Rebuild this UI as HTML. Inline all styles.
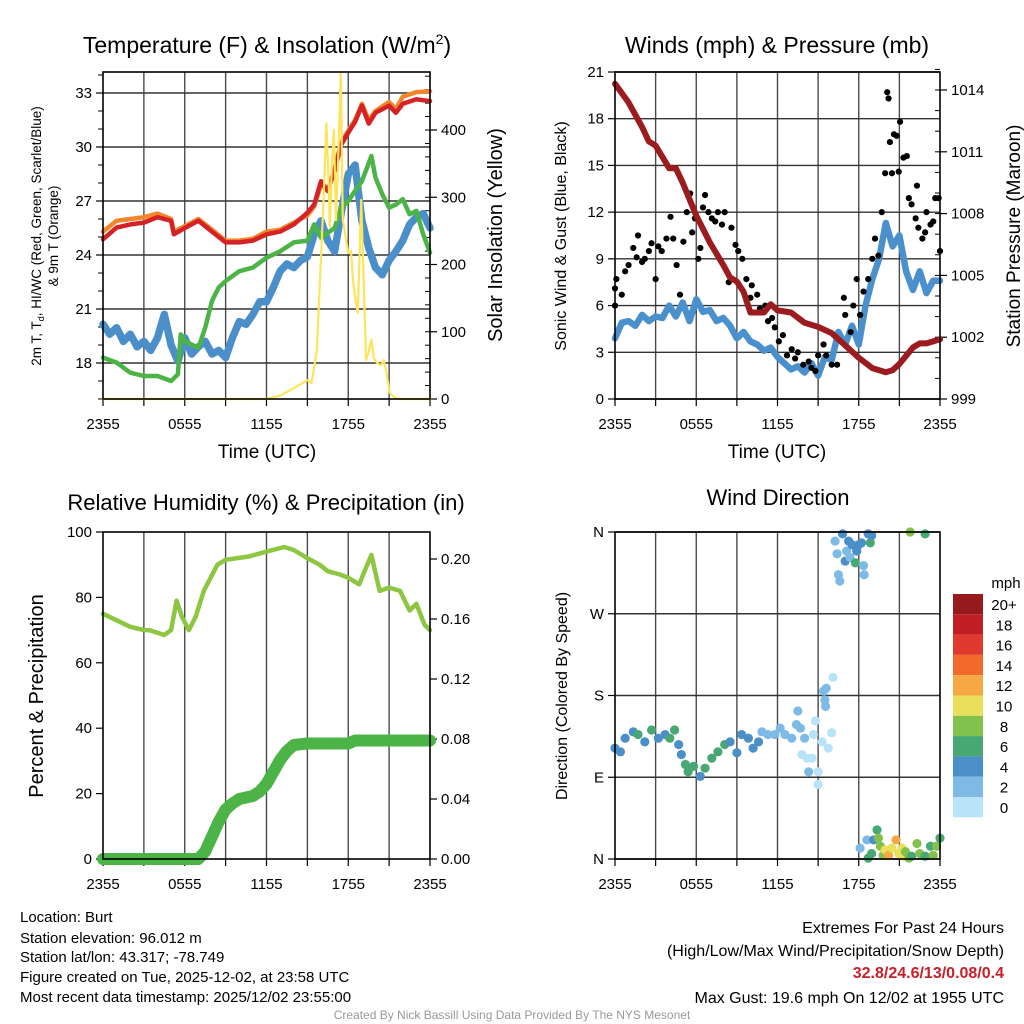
<!DOCTYPE html>
<html><head><meta charset="utf-8"><style>
html,body{margin:0;padding:0;background:#fff;}
svg{display:block;font-family:"Liberation Sans",Arial,sans-serif;}
</style></head><body>
<svg id="chart" width="1024" height="1024" viewBox="0 0 1024 1024" xmlns="http://www.w3.org/2000/svg">
<rect x="0" y="0" width="1024" height="1024" fill="#fff"/>
<g id="texts" fill="#000">
<text x="267" y="53" font-size="23" text-anchor="middle">Temperature (F) &amp; Insolation (W/m<tspan dy="-9" font-size="14">2</tspan><tspan dy="9">)</tspan></text>
<text x="777" y="53" font-size="23" text-anchor="middle">Winds (mph) &amp; Pressure (mb)</text>
<text x="266" y="510" font-size="22" text-anchor="middle">Relative Humidity (%) &amp; Precipitation (in)</text>
<text x="778" y="505" font-size="22" text-anchor="middle">Wind Direction</text>
<text x="267" y="458" font-size="19" text-anchor="middle">Time (UTC)</text>
<text x="777" y="458" font-size="19" text-anchor="middle">Time (UTC)</text>
<text transform="translate(41,236) rotate(-90)" font-size="13.5" text-anchor="middle">2m T, T<tspan dy="3" font-size="9">d</tspan><tspan dy="-3">, HI/WC (Red, Green, Scarlet/Blue)</tspan></text>
<text transform="translate(58,236) rotate(-90)" font-size="13.5" text-anchor="middle">&amp; 9m T (Orange)</text>
<text transform="translate(502,235) rotate(-90)" font-size="20" text-anchor="middle">Solar Insolation (Yellow)</text>
<text transform="translate(566,236) rotate(-90)" font-size="16" text-anchor="middle">Sonic Wind &amp; Gust (Blue, Black)</text>
<text transform="translate(1020,236) rotate(-90)" font-size="19" text-anchor="middle">Station Pressure (Maroon)</text>
<text transform="translate(43,696) rotate(-90)" font-size="20" text-anchor="middle">Percent &amp; Precipitation</text>
<text transform="translate(567,696) rotate(-90)" font-size="16" text-anchor="middle">Direction (Colored By Speed)</text>
<text x="1006" y="588" font-size="15" text-anchor="middle">mph</text>
<g font-size="15">
<text x="20" y="922">Location: Burt</text>
<text x="20" y="943">Station elevation: 96.012 m</text>
<text x="20" y="962">Station lat/lon: 43.317; -78.749</text>
<text x="20" y="982">Figure created on Tue, 2025-12-02, at 23:58 UTC</text>
<text x="20" y="1002">Most recent data timestamp: 2025/12/02 23:55:00</text>
</g>
<g font-size="16" text-anchor="end">
<text x="1004" y="933">Extremes For Past 24 Hours</text>
<text x="1004" y="956">(High/Low/Max Wind/Precipitation/Snow Depth)</text>
<text x="1004" y="978" fill="#c8202a" font-weight="bold">32.8/24.6/13/0.08/0.4</text>
<text x="1004" y="1003">Max Gust: 19.6 mph On 12/02 at 1955 UTC</text>
</g>
<text x="512" y="1019" font-size="12" fill="#999" text-anchor="middle">Created By Nick Bassill Using Data Provided By The NYS Mesonet</text>
</g>
</svg>
<script>
// ---------- Panel 1: temperature & insolation ----------
const tempHours = [0,1,2,3,4,5,5.2,6,7,8,9,10,11,12,13,14,15,15.5,16,16.5,17,17.5,18,18.5,19,19.5,20,21,21.5,22,23,24];
const tempRed = [24.87,25.52,25.7,25.8,26.1,25.9,25.15,25.5,25.9,25.3,24.7,24.7,24.8,25.15,25.3,25.7,26.35,26.8,28.1,27.55,28.7,30.15,30.8,31.4,32.3,31.3,31.9,32.3,31.9,32.4,32.65,32.55];
const tempOrange = [25.3,25.9,26.0,26.1,26.3,26.0,25.3,25.6,26.0,25.4,24.8,24.8,24.9,25.3,25.4,25.8,26.2,26.7,27.9,27.6,28.8,30.3,30.9,31.5,32.4,31.5,32.0,32.5,32.1,32.8,33.05,33.1];
const dewHours = [0,1,2,3,4,5,5.5,5.7,6,7,7.5,8,8.5,9,10,11,12,13,14,15,15.5,16,17,17.5,18,18.5,19,19.7,20,20.5,21,21.5,22,22.5,23,23.5,24];
const dewGreen = [18.3,18.02,17.46,17.28,17.28,17.0,17.37,19.59,19.2,18.85,19.96,21.45,22.2,22.55,23.1,23.3,23.85,24.2,24.7,24.8,25.7,24.96,25.5,26.63,27.0,27.56,28.1,29.5,28.3,27.37,26.63,26.8,27.1,26.26,26.45,25.15,24.13];
const chillHours = [0,0.5,1,1.5,2,2.5,3,3.5,4,4.5,5,5.5,6,6.5,7,7.5,8,8.5,9,9.5,10,10.5,11,11.5,12,12.5,13,13.5,14,14.5,15,15.5,16,16.5,17,17.5,18,18.5,19,19.5,20,20.5,21,21.5,22,22.5,23,23.5,24];
const chillBlue = [20.15,19.6,19.96,19.2,19.6,18.9,19.2,18.7,19.4,20.7,19.0,18.1,19.4,18.5,18.9,19.2,18.5,18.7,18.3,19.4,20.3,20.15,20.7,21.4,21.4,22.2,23.1,23.5,23.3,23.7,23.9,25.15,25.9,24.8,24.2,26.4,28.5,29.0,25.9,24.4,23.3,22.9,23.7,24.2,24.8,25.7,26.1,26.3,25.5];
const solarHours = [0,12,13,14,15,15.3,15.7,16,16.2,16.4,16.55,16.65,16.8,16.95,17.1,17.3,17.45,17.6,18,18.2,18.35,18.5,18.7,18.95,19.1,19.3,19.5,19.7,19.9,20.1,20.4,20.6,20.8,21.05,21.4,21.8,24];
const solarVals = [0,0,5,16,28,24,73,211,300,410,330,256,350,400,266,380,484,266,217,220,177,150,128,296,200,58,70,88,60,54,50,58,40,9,2,0,0];
const tempTicks = [18,21,24,27,30,33];
const solarTicks = [0,100,200,300,400];
const timeLabels = ["2355","0555","1155","1755","2355"];
// ---------- Panel 2: winds & pressure ----------
const presHours = [0,1,2,2.5,3,4,4.5,5,6,7,8,8.5,9,9.5,10,11,11.5,12,13,14,15,16,17,18,19,20,20.5,21,22,22.5,23,24];
const presVals = [1014.3,1013.4,1012.2,1011.5,1011.3,1010.2,1010.2,1009.5,1007.9,1006.6,1005.5,1004.9,1004.7,1004.2,1003.2,1003.2,1003.6,1003.3,1003.2,1002.7,1002.5,1002.2,1001.6,1001.0,1000.5,1000.3,1000.4,1000.7,1001.5,1001.7,1001.7,1001.9];
const windHours = chillHours;
const windVals = [3.9,4.9,5.0,4.7,5.4,5.0,5.3,5.2,6.0,5.3,6.2,5.0,6.4,5.6,5.7,5.0,5.2,4.7,3.9,4.3,3.7,3.5,3.1,3.3,2.7,2.3,1.9,2.1,1.7,2.3,1.5,2.7,2.5,4.3,3.5,4.7,3.5,6.0,7.7,9.0,11.3,9.8,10.5,8.2,7.0,8.2,6.8,7.6,7.6];
const gustHours = [0,0,0.1,0.5,0.75,1.0,1.35,1.6,1.7,2.0,2.2,2.5,2.7,3.0,3.2,3.45,3.8,4.1,4.3,4.55,4.8,5.05,5.3,5.55,5.7,5.9,6.15,6.3,6.5,6.65,6.9,7.15,7.4,7.6,7.9,8.1,8.4,8.6,8.9,9.1,9.4,9.7,10.0,10.1,10.5,10.7,11.1,11.3,11.6,11.8,12.1,12.4,12.7,13.05,13.3,13.5,13.9,14.3,14.5,14.8,15.0,15.4,15.6,16.0,16.4,16.9,17.0,17.4,17.6,17.85,18.1,18.35,18.7,19.0,19.2,19.45,19.7,19.95,20.1,20.2,20.3,20.45,20.6,20.8,20.95,21.05,21.3,21.55,21.7,21.9,22.2,22.3,22.4,22.7,22.9,23.0,23.3,23.5,23.65,23.9,24.0];
const gustVals = [7.1,6.0,7.7,6.7,8.2,8.6,9.7,9.1,10.5,8.8,9.0,9.5,10.0,7.7,9.8,9.5,10.3,11.7,10.3,8.6,6.7,10.1,12.0,13.2,10.7,11.6,9.0,9.7,12.3,13.1,12.0,11.6,11.4,12.0,11.2,12.0,7.5,11.0,9.9,9.5,9.0,7.7,6.5,7.3,6.7,5.8,6.0,5.0,5.2,4.6,3.7,4.1,2.8,3.2,2.6,3.0,2.2,2.4,2.0,1.8,2.8,3.5,2.8,2.2,2.2,6.5,5.4,4.3,6.0,7.7,5.4,6.9,7.7,9.0,10.3,9.2,12.0,14.5,19.7,19.3,16.5,14.5,17.0,16.9,14.6,17.8,15.5,15.6,12.9,12.5,11.6,13.7,11.0,10.3,10.7,12.0,11.2,11.4,12.9,12.9,9.5];
const windTicks = [0,3,6,9,12,15,18,21];
const presTicks = [999,1002,1005,1008,1011,1014];
// ---------- Panel 3: humidity & precipitation ----------
const rhHours = [0,1,2,3,3.4,4.5,5,5.4,5.8,6.3,6.8,7.4,8.4,9,10.7,12,13.3,14,15,15.9,16.5,17.4,18,18.8,19.2,19.7,20.3,21,21.8,22.5,23,23.6,24];
const rhVals = [75,73,71,70,70,68.5,70,79,74,70,74,82,90,91.5,92.5,94,95.4,94.5,92,90,88,87,86,84,88,93,82,83,82,76,78,71.6,70];
const pcpHours = [0,7,7.5,8,8.5,9,9.5,10,11,11.5,12,12.5,13,13.5,14,15,16,17,18,18.5,24];
const pcpVals = [0,0,0.005,0.015,0.025,0.033,0.037,0.04,0.042,0.045,0.05,0.058,0.066,0.072,0.076,0.077,0.077,0.077,0.077,0.079,0.079];
const rhTicks = [0,20,40,60,80,100];
const pcpTicks = [0,0.04,0.08,0.12,0.16,0.20];
// ---------- Panel 4: wind direction ----------
const dirHours = [0,0.4,0.75,1.35,1.7,2.2,2.7,3.2,3.7,4.05,4.4,4.7,4.9,5.2,5.4,5.8,6.3,6.65,7.15,7.6,8.1,8.5,9.0,9.35,9.85,10.2,10.6,10.85,11.3,11.8,12.2,12.55,13.05,13.4,13.5,13.7,14.0,13.8,14.2,14.3,14.55,14.65,14.8,15.0,15.0,15.3,15.4,15.5,15.6,15.55,15.75,16.0,16.1,16.25,16.4,16.5,16.6,16.8,17.0,17.1,17.25,17.35,17.5,17.75,17.85,18.0,18.2,18.35,18.4,18.7,18.85,18.95,21.8,22.9,18.1,18.6,18.7,18.95,19.1,19.35,19.45,19.6,19.8,19.95,20.2,20.45,20.75,20.95,21.2,21.3,21.45,21.7,21.9,22.3,22.5,22.9,23.3,23.5,23.75,24.0];
const dirDeg = [122,118,133,140,137,129,142,133,137,133,142,126,115,104,96,102,91,100,111,118,126,129,117,137,133,122,129,140,137,137,144,137,133,148,163,144,133,115,111,96,111,137,152,96,82,129,185,175,188,168,122,139,200,350,336,313,306,358,328,339,350,332,346,326,339,346,348,323,313,358,348,356,360,358,12,21,1,6,21,32,23,14,4,10,4,12,21,6,12,3,8,1,3,17,6,3,14,4,14,23];
const dirSpeed = [4,4,4,4,6,4,6,4,4,6,6,4,4,6,6,6,4,6,6,6,6,4,4,4,4,4,4,2,2,2,2,2,2,2,2,2,2,0,0,2,0,0,0,0,0,0,2,2,2,2,0,0,0,2,2,2,2,4,4,2,4,2,4,6,4,4,4,2,2,4,6,4,8,6,2,2,6,6,4,6,8,8,8,10,12,10,12,10,10,10,8,8,6,8,8,6,6,8,8,6];
const dirTicks = [0,90,180,270,360];
const dirLabels = ["N","E","S","W","N"];
const speedBins = ["0","2","4","6","8","10","12","14","16","18","20+"];
const speedColors = ["#b8e3f8","#7dbbe6","#4a8fc7","#47a874","#82c14b","#e8e05a","#f7a845","#f26a2b","#e03a2e","#c11e26","#95191d"];

const NS = "http://www.w3.org/2000/svg";
const svg = document.getElementById("chart");
function mk(tag, attrs, parent){ const e=document.createElementNS(NS,tag); for(const k in attrs) e.setAttribute(k,attrs[k]); (parent||svg).appendChild(e); return e; }
function lin(d0,d1,r0,r1){ return v => r0 + (v-d0)*(r1-r0)/(d1-d0); }

const P1={x0:103,x1:430,y0:72,y1:399}, P2={x0:615,x1:940,y0:72,y1:399}, P3={x0:103,x1:430,y0:532,y1:859}, P4={x0:615,x1:940,y0:532,y1:859};
const x1s=lin(0,24,P1.x0,P1.x1), x2s=lin(0,24,P2.x0,P2.x1), x3s=lin(0,24,P3.x0,P3.x1), x4s=lin(0,24,P4.x0,P4.x1);
const yT=lin(33,18,93,363), yS=lin(0,400,399,130);
const yW=lin(0,21,399,72), yPr=lin(999,1014,399,90);
const yH=lin(0,100,859,532), yPc=lin(0,0.2,859,559);
const yD=lin(0,360,859,532);

function gridAndFrame(P, xs, hTicks, name){
  const g=mk("g",{});
  
  
  for(let h=3;h<24;h+=3){ mk("line",{x1:xs(h),x2:xs(h),y1:P.y0,y2:P.y1,stroke:"#4a4a4a","stroke-width":1.4},g); }
  hTicks.forEach(y=>{ mk("line",{x1:P.x0,x2:P.x1,y1:y,y2:y,stroke:"#333","stroke-width":1.4},g); });
  for(let h=0;h<=24;h+=3){ mk("line",{x1:xs(h),x2:xs(h),y1:P.y1,y2:P.y1+7,stroke:"#000","stroke-width":1.2},g); }
  timeLabels.forEach((t,i)=>{ const tx=mk("text",{x:xs(i*6),y:P.y1+30,"font-size":15,"text-anchor":"middle"},g); tx.textContent=t; });
}
function frame(P,name){
  const r=mk("rect",{x:P.x0,y:P.y0,width:P.x1-P.x0,height:P.y1-P.y0,fill:"none",stroke:"#000","stroke-width":1.6});
  
  
}
function axisLabels(vals, ys, x, anchor, fmt, name, tickDir){
  const g=mk("g",{});
  
  
  vals.forEach((v,i)=>{ const y=ys(v,i);
    mk("line",{x1:x,x2:x+tickDir*7,y1:y,y2:y,stroke:"#000","stroke-width":1.2},g);
    const t=mk("text",{x:x+tickDir*11,y:y+5,"font-size":15,"text-anchor":anchor},g); t.textContent=fmt(v,i); });
}
function path(xs, ys, H, V, attrs, name){
  let d=""; H.forEach((h,i)=>{ d+=(i?"L":"M")+xs(h).toFixed(1)+","+ys(V[i]).toFixed(1); });
  const p=mk("path",Object.assign({d:d,fill:"none","stroke-linejoin":"round","stroke-linecap":"round"},attrs));
  
  
  return p;
}

// Panel 1
gridAndFrame(P1,x1s,tempTicks.map(yT),"temperature");
for(let v=16;v<=34;v++){ mk("line",{x1:P1.x0,x2:P1.x0-5,y1:yT(v),y2:yT(v),stroke:"#000","stroke-width":1}); }
for(let v=20;v<=480;v+=20){ mk("line",{x1:P1.x1,x2:P1.x1-5,y1:yS(v),y2:yS(v),stroke:"#000","stroke-width":1}); }
axisLabels(tempTicks, yT, P1.x0, "end", v=>String(v), "temperature-y-axis", -1);
axisLabels(solarTicks, yS, P1.x1, "start", v=>String(v), "insolation-y-axis", 1);
path(x1s,yT,chillHours,chillBlue,{stroke:"#4a8fc9","stroke-width":7.5},"windchill-blue-line");
path(x1s,yT,dewHours,dewGreen,{stroke:"#4cb447","stroke-width":4.5},"dewpoint-green-line");
path(x1s,yT,tempHours,tempOrange,{stroke:"#f4862a","stroke-width":4.5},"temp-9m-orange-line");
path(x1s,yT,tempHours,tempRed,{stroke:"#d42227","stroke-width":4.5},"temp-2m-red-line");
path(x1s,yS,solarHours,solarVals,{stroke:"#fde459","stroke-width":2.2},"insolation-yellow-line");
frame(P1,"temperature");

// Panel 2
gridAndFrame(P2,x2s,windTicks.map(yW),"winds");
for(let v=999;v<=1015;v++){ mk("line",{x1:P2.x1,x2:P2.x1-5,y1:yPr(v),y2:yPr(v),stroke:"#000","stroke-width":1}); }
axisLabels(windTicks, yW, P2.x0, "end", v=>String(v), "wind-y-axis", -1);
axisLabels(presTicks, yPr, P2.x1, "start", v=>String(v), "pressure-y-axis", 1);
path(x2s,yW,windHours,windVals,{stroke:"#4a90cc","stroke-width":6.5},"sonic-wind-line");
const gg=mk("g",{});


gustHours.forEach((h,i)=>{ const c=mk("circle",{cx:x2s(h),cy:yW(gustVals[i]),r:3.1,fill:"#000"},gg);
  
   });
path(x2s,yPr,presHours,presVals,{stroke:"#9b1b1f","stroke-width":6},"pressure-maroon-line");
frame(P2,"winds");

// Panel 3
gridAndFrame(P3,x3s,[],"humidity");
axisLabels(rhTicks, yH, P3.x0, "end", v=>String(v), "humidity-y-axis", -1);
axisLabels(pcpTicks, yPc, P3.x1, "start", v=>v.toFixed(2), "precip-y-axis", 1);
path(x3s,yH,rhHours,rhVals,{stroke:"#8dc641","stroke-width":4.5},"relative-humidity-line");
path(x3s,yPc,pcpHours,pcpVals,{stroke:"#4cb447","stroke-width":12},"precipitation-line");
frame(P3,"humidity");

// Panel 4
gridAndFrame(P4,x4s,dirTicks.map(yD),"direction");
axisLabels(dirTicks, yD, P4.x0, "end", (v,i)=>dirLabels[i], "direction-y-axis", -1);
const dg=mk("g",{});


dirHours.forEach((h,i)=>{ const c=mk("circle",{cx:x4s(h),cy:yD(dirDeg[i]),r:4.6,fill:speedColors[Math.min(10,Math.round(dirSpeed[i]/2))]},dg);
  
   });
frame(P4,"direction");

// Colorbar
const cb=mk("g",{});


speedBins.forEach((b,i)=>{ const k=10-i; const y=594+i*20.3;
  const r=mk("rect",{x:953,y:y,width:30,height:20.3,fill:speedColors[k]},cb);
  
  
  const t=mk("text",{x:1004,y:y+16,"font-size":15,"text-anchor":"middle"},cb); t.textContent=speedBins[k]; });
</script>
</body></html>
